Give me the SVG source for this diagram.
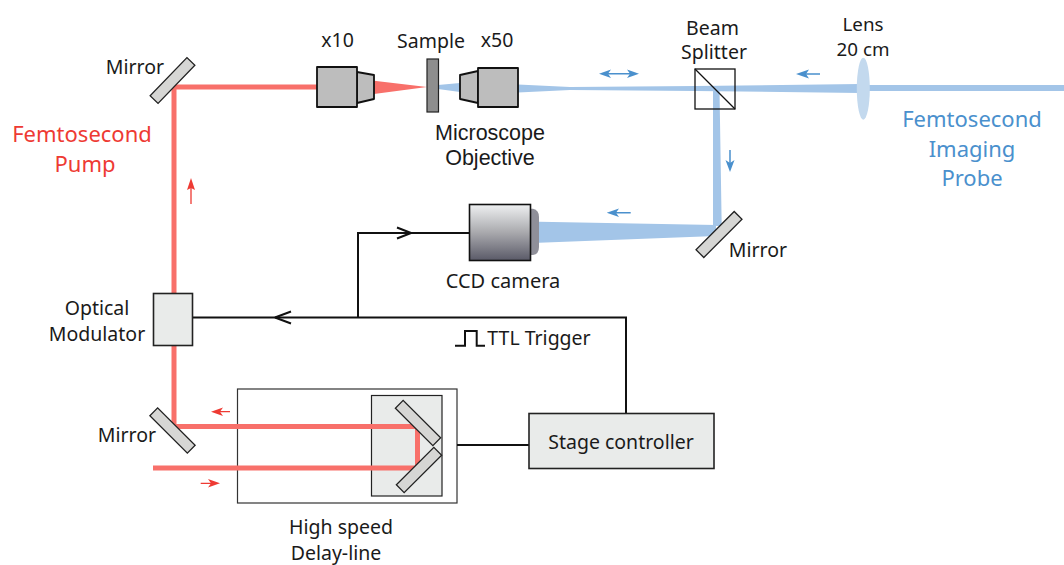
<svg xmlns="http://www.w3.org/2000/svg" width="1064" height="565" viewBox="0 0 1064 565">
<style>
text{font-family:"Noto Sans","Open Sans","Liberation Sans",sans-serif;font-size:19.5px;fill:#1a1a1a;text-anchor:middle}
.r{fill:#ee3a33;font-size:22px}
.b{fill:#4a90cd;font-size:22px}
.m{font-family:"Liberation Sans",sans-serif;font-size:21.5px}
.pump{fill:none;stroke:#f8706a;stroke-width:5}
.probe{fill:#a3c5e8}
.wire{fill:none;stroke:#111;stroke-width:2}
.obj{fill:#bdbdbd;stroke:#111;stroke-width:1.8;stroke-linejoin:round}
.mirror{fill:#d6d6d4;stroke:#222;stroke-width:1.3}
.box{fill:#e9ebea;stroke:#222;stroke-width:1.6}
.ra{stroke:#ee3a33;fill:none;stroke-width:1.3}
.ba{stroke:#4a90cd;fill:none;stroke-width:1.5}
.rh{fill:#ee3a33}
.bh{fill:#4a90cd}
</style>
<defs>
<linearGradient id="cam" x1="0" y1="0" x2="0" y2="1"><stop offset="0" stop-color="#eef0f1"/><stop offset="0.5" stop-color="#a9a9ad"/><stop offset="1" stop-color="#5a5a68"/></linearGradient>
</defs>
<g id="delay">
<rect x="237.500" y="389" width="219.500" height="114" fill="#fff" stroke="#333" stroke-width="1.2"/>
<rect x="371.500" y="395.500" width="70.500" height="100.500" fill="#e9ebea" stroke="#222" stroke-width="1.2"/>
<text x="341" y="534">High speed</text><text x="336" y="560">Delay-line</text></g>
<g id="connectors">
<path class="pump" d="M374 87H174V293M174 346V426.500H417.500V468H153"/>
<path fill="#f8706a" d="M374 80.700L427 87L374 94Z"/>
<path class="probe" d="M438 85L460 83V92L438 89ZM518 84.500L570 87L696 86L860 84V93L696 91L570 90L518 92.500Z"/>
<path class="probe" d="M866 85H1064V91H866ZM713 90H719.500L721.700 226H713Z"/>
<path class="probe" d="M539 221.700L716 225V236L539 242.700Z"/>
<path class="wire" d="M193 317.500H626V413M358 317.500V233H470M457 445H529"/>
<path class="wire" stroke-width="1.7" d="M411 233L397 227.500M411 233L397 238.500M275 317.500L291 311.500M275 317.500L291 323.500"/>
<path class="wire" d="M455 345.700H465V331H476.700V345.700H485" stroke-width="1.4"/>
<path class="ra" d="M191 204V186M230 411.700H218M200.700 483.300H213"/>
<path class="rh" d="M191 178L187 190L191 188L195 190ZM211 411.700L223 407.500L220 411.700L223 416ZM220 483.300L208 479L211 483.300L208 487.500Z"/>
<path class="ba" d="M604 73.700H634M820 74H802M730 150V166M630.700 212.700H612"/>
<path class="bh" d="M599 73.700L611 69.500L608 73.700L611 78ZM639 73.700L627 69.500L630 73.700L627 78ZM796 74L809 69.500L806 74L809 78.500ZM730 172L725.500 160L730 163L734.500 160ZM606.700 212.700L619 208.500L616 212.700L619 217Z"/>
</g>
<g id="mirror1"><rect class="mirror" x="-26.500" y="-5.500" width="53" height="11" transform="translate(172.500 80.500) rotate(-46)"/><text x="135" y="74">Mirror</text></g>
<g id="objective10"><path class="obj" d="M357 72L374 75V99L357 103Z"/><rect class="obj" x="317" y="67" width="40" height="40"/><text x="337.500" y="47">x10</text></g>
<g id="sample"><rect x="427" y="59" width="11.500" height="53" fill="#8e8e8e" stroke="#222" stroke-width="1.2"/><text x="431" y="48">Sample</text></g>
<g id="objective50"><path class="obj" d="M478 71L460 75V99L478 103Z"/><rect class="obj" x="478" y="68" width="40" height="39"/><text x="497" y="47">x50</text><text class="m" x="490" y="140">Microscope</text><text class="m" x="490" y="165">Objective</text></g>
<g id="beamsplitter"><rect x="695" y="69" width="40" height="40" fill="none" stroke="#111" stroke-width="1.3"/><path d="M695 69L735 109" stroke="#111" stroke-width="1.3"/><text x="712.500" y="34.500">Beam</text><text x="714" y="59">Splitter</text></g>
<g id="lens"><ellipse cx="863.300" cy="88.700" rx="6.500" ry="31" fill="#c3d9ee"/><text x="863" y="30.500" style="font-size:18.800px">Lens</text><text x="863" y="56" style="font-size:18.800px">20 cm</text></g>
<g id="probe-label"><text class="b" x="972" y="127">Femtosecond</text><text class="b" x="972" y="157">Imaging</text><text class="b" x="972" y="186">Probe</text></g>
<g id="pump-label"><text class="r" x="82" y="142">Femtosecond</text><text class="r" x="85" y="172">Pump</text></g>
<g id="mirror2"><rect class="mirror" x="-27" y="-5.500" width="54" height="11" transform="translate(719 234.500) rotate(-45)"/><text x="758" y="257">Mirror</text></g>
<g id="ccd"><path d="M530 208.700H533Q539 210 539 217V247Q539 254 533 255H530Z" fill="#8f8f99"/><rect x="469.500" y="204.500" width="61" height="56" fill="url(#cam)" stroke="#111" stroke-width="1.6"/><text x="503" y="288" style="font-size:20px">CCD camera</text></g>
<g id="modulator"><rect class="box" x="153.500" y="293.500" width="39" height="52"/><text x="97" y="315">Optical</text><text x="97" y="341">Modulator</text></g>
<g id="trigger"><text x="539" y="345">TTL Trigger</text></g>
<g id="mirror3"><rect class="mirror" x="-26.500" y="-5.500" width="53" height="11" transform="translate(172.500 430.500) rotate(45)"/><text x="127" y="442">Mirror</text></g>
<g id="retro-mirrors">
<rect class="mirror" x="-26.500" y="-5.500" width="53" height="11" transform="translate(418 423) rotate(45)"/>
<rect class="mirror" x="-26.500" y="-5.500" width="53" height="11" transform="translate(419 470) rotate(-45)"/>
</g>
<g id="stage"><rect class="box" x="529" y="413.500" width="185" height="55"/><text x="621" y="449">Stage controller</text></g>
</svg>
